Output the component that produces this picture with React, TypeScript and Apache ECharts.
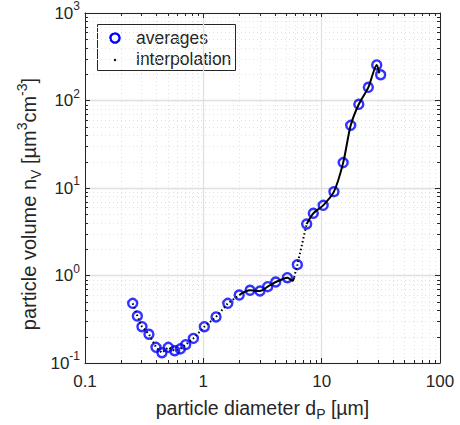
import React, { useEffect, useRef } from "react";
import * as echarts from "echarts";

// ---- data ----
const avgX = [0.253, 0.277, 0.303, 0.347, 0.398, 0.447, 0.506, 0.573, 0.639, 0.709, 0.824, 1.02, 1.28, 1.61, 2.01, 2.48, 3.01, 3.5, 4.09, 5.13, 6.23, 7.47, 8.5, 10.3, 12.7, 15.2, 17.6, 20.6, 24.8, 29.2, 31.5];
const avgY = [0.481, 0.344, 0.26, 0.213, 0.151, 0.131, 0.151, 0.138, 0.145, 0.162, 0.191, 0.26, 0.336, 0.481, 0.598, 0.678, 0.665, 0.745, 0.843, 0.944, 1.33, 3.88, 5.14, 6.34, 9.08, 19.5, 52.0, 90.5, 141.5, 255, 197];

// interpolation curve, split in dotted (sparse) and solid (dense) stretches
const interpDotA_X = [0.253, 0.277, 0.303, 0.347, 0.398, 0.447, 0.506, 0.573, 0.639, 0.709, 0.824, 1.02, 1.28, 1.61, 2.01];
const interpDotA_Y = [0.481, 0.344, 0.26, 0.213, 0.151, 0.131, 0.151, 0.138, 0.145, 0.162, 0.191, 0.26, 0.336, 0.481, 0.598];
const interpSolidA_X = [2.01, 2.48, 3.01, 3.5, 4.09, 4.6, 5.13, 5.45, 5.69, 5.85];
const interpSolidA_Y = [0.598, 0.678, 0.665, 0.745, 0.843, 0.9, 0.944, 0.9, 0.873, 0.95];
const interpDotB_X = [5.85, 6.23, 7.47];
const interpDotB_Y = [0.95, 1.33, 3.88];
const interpSolidB_X = [7.47, 8.5, 10.3, 12.7, 15.2, 17.6, 20.6, 24.8, 29.2, 30.7];
const interpSolidB_Y = [3.88, 5.14, 6.34, 9.08, 19.5, 52.0, 90.5, 141.5, 255, 205];

const xTickLabels = ["0.1", "1", "10", "100"];
const yExponents = [-1, 0, 1, 2, 3];
const X_MIN = 0.1, X_MAX = 100, Y_MIN = 0.1, Y_MAX = 1000;
const xDecades = [0.1, 1, 10];
const yDecades = [0.1, 1, 10, 100];
const minorMult = [2, 3, 4, 5, 6, 7, 8, 9];

const X_TITLE = "particle diameter d{s|P} [µm]";
const Y_TITLE = "particle volume n{s|V} [µm{p|3}cm{p|-3}]";

const FONT = "'Liberation Sans', Arial, sans-serif";
const AXIS_COLOR = "#262626";

const zip = (xs: number[], ys: number[]) => xs.map((x, i) => [x, ys[i]]);

export default function App() {
  const ref = useRef<HTMLDivElement>(null);
  useEffect(() => {
    if (!ref.current) return;
    const chart = echarts.init(ref.current, undefined, { renderer: "svg" });
    const minorX: number[] = [];
    xDecades.forEach((d) => minorMult.forEach((m) => minorX.push(d * m)));
    const minorY: number[] = [];
    yDecades.forEach((d) => minorMult.forEach((m) => minorY.push(d * m)));

    const fmtX = (v: number) => {
      const s = Number(v.toPrecision(3)).toString();
      return xTickLabels.includes(s) ? s : "";
    };
    const fmtY = (v: number) => {
      const e = Math.round(Math.log10(v));
      if (!yExponents.includes(e)) return "";
      return `{b|10}{e|${e}}`;
    };

    const baseAxis = {
      type: "log" as const,
      logBase: 10,
      axisLine: { show: true, lineStyle: { color: AXIS_COLOR, width: 1 } },
      axisTick: { show: true, inside: true, length: 5, lineStyle: { color: AXIS_COLOR, width: 1 } },
    };

    const option: any = {
      animation: false,
      backgroundColor: "#ffffff",
      grid: { left: 85, right: 20, top: 13, bottom: 62, containLabel: false, outerBoundsMode: "none" },
      xAxis: [
        {
          ...baseAxis,
          min: X_MIN,
          max: X_MAX,
          position: "bottom",
          axisLabel: { formatter: fmtX, fontFamily: FONT, fontSize: 17, color: AXIS_COLOR, margin: 10 },
          splitLine: { show: true, lineStyle: { color: "#e0e0e0", width: 1.3 } },
          name: X_TITLE,
          nameLocation: "middle",
          nameGap: 32,
          nameTextStyle: {
            fontFamily: FONT,
            fontSize: 19.5,
            color: AXIS_COLOR,
            lineHeight: 26,
            rich: { s: { fontFamily: FONT, fontSize: 14, color: AXIS_COLOR, verticalAlign: "bottom", lineHeight: 26 } },
          },
        },
        { ...baseAxis, min: X_MIN, max: X_MAX, position: "top", axisLabel: { show: false }, splitLine: { show: false } },
      ],
      yAxis: [
        {
          ...baseAxis,
          min: Y_MIN,
          max: Y_MAX,
          position: "left",
          axisLabel: {
            formatter: fmtY,
            margin: 5,
            color: AXIS_COLOR,
            rich: {
              b: { fontFamily: FONT, fontSize: 17, color: AXIS_COLOR, lineHeight: 26, verticalAlign: "middle" },
              e: { fontFamily: FONT, fontSize: 12, color: AXIS_COLOR, lineHeight: 26, verticalAlign: "top" },
            },
          },
          splitLine: { show: true, lineStyle: { color: "#e0e0e0", width: 1.3 } },
        },
        { ...baseAxis, min: Y_MIN, max: Y_MAX, position: "right", axisLabel: { show: false }, splitLine: { show: false } },
      ],
      series: [
        {
          type: "custom",
          name: "minor",
          silent: true,
          z: 1,
          xAxisIndex: 0,
          yAxisIndex: 0,
          data: [[X_MIN, Y_MIN]],
          renderItem: (_params: any, api: any) => {
            const bl = api.coord([X_MIN, Y_MIN]);
            const tr = api.coord([X_MAX, Y_MAX]);
            const left = bl[0], bottom = bl[1], right = tr[0], top = tr[1];
            const children: any[] = [];
            const r = (v: number) => Math.round(v) + 0.5;
            const gridStyle = { stroke: "#e2e2e2", lineWidth: 1, lineDash: [1, 3] };
            minorX.forEach((v) => {
              const px = r(api.coord([v, Y_MIN])[0]);
              children.push({ type: "line", shape: { x1: px, y1: top, x2: px, y2: bottom }, style: gridStyle });
              children.push({ type: "line", shape: { x1: px, y1: bottom, x2: px, y2: bottom - 3 }, style: { stroke: AXIS_COLOR, lineWidth: 1 } });
              children.push({ type: "line", shape: { x1: px, y1: top, x2: px, y2: top + 3 }, style: { stroke: AXIS_COLOR, lineWidth: 1 } });
            });
            minorY.forEach((v) => {
              const py = r(api.coord([X_MIN, v])[1]);
              children.push({ type: "line", shape: { x1: left, y1: py, x2: right, y2: py }, style: gridStyle });
              children.push({ type: "line", shape: { x1: left, y1: py, x2: left + 3, y2: py }, style: { stroke: AXIS_COLOR, lineWidth: 1 } });
              children.push({ type: "line", shape: { x1: right, y1: py, x2: right - 3, y2: py }, style: { stroke: AXIS_COLOR, lineWidth: 1 } });
            });
            return { type: "group", children };
          },
        },
        {
          type: "scatter",
          name: "averages",
          z: 3,
          symbol: "circle",
          symbolSize: 9,
          itemStyle: { color: "rgba(0,0,0,0)", borderColor: "#0000ff", borderWidth: 2.4 },
          data: zip(avgX, avgY),
        },
        { type: "line", name: "interpolation", z: 4, showSymbol: false, lineStyle: { color: "#000000", width: 2, type: [1.5, 2.5] }, data: zip(interpDotA_X, interpDotA_Y) },
        { type: "line", name: "interpolation", z: 4, showSymbol: false, smooth: 0.3, lineStyle: { color: "#000000", width: 2 }, data: zip(interpSolidA_X, interpSolidA_Y) },
        { type: "line", name: "interpolation", z: 4, showSymbol: false, lineStyle: { color: "#000000", width: 2, type: [1.5, 2.5] }, data: zip(interpDotB_X, interpDotB_Y) },
        { type: "line", name: "interpolation", z: 4, showSymbol: false, smooth: 0.25, lineStyle: { color: "#000000", width: 2 }, data: zip(interpSolidB_X, interpSolidB_Y) },
      ],
      graphic: [
        {
          type: "text",
          x: 29,
          y: 204,
          rotation: Math.PI / 2,
          z: 10,
          style: {
            text: Y_TITLE,
            fontFamily: FONT,
            fontSize: 20,
            fill: AXIS_COLOR,
            align: "center",
            verticalAlign: "middle",
            lineHeight: 28,
            rich: {
              s: { fontFamily: FONT, fontSize: 14, fill: AXIS_COLOR, verticalAlign: "bottom", lineHeight: 28 },
              p: { fontFamily: FONT, fontSize: 14, fill: AXIS_COLOR, verticalAlign: "top", lineHeight: 28 },
            },
          },
        },
        {
          type: "group",
          left: 97,
          top: 24,
          z: 10,
          children: [
            { type: "rect", shape: { x: 0.5, y: 0.5, width: 138, height: 46 }, style: { fill: "#ffffff", stroke: AXIS_COLOR, lineWidth: 1 } },
            { type: "circle", shape: { cx: 18, cy: 14, r: 4.6 }, style: { fill: "none", stroke: "#0000ff", lineWidth: 2.4 } },
            { type: "circle", shape: { cx: 18, cy: 36, r: 1.2 }, style: { fill: "#000000" } },
            { type: "text", x: 39, y: 14, style: { text: "averages", fontFamily: FONT, fontSize: 17.5, fill: AXIS_COLOR, verticalAlign: "middle" } },
            { type: "text", x: 39, y: 35, style: { text: "interpolation", fontFamily: FONT, fontSize: 17.5, fill: AXIS_COLOR, verticalAlign: "middle" } },
          ],
        },
      ],
    };
    chart.setOption(option);
    return () => chart.dispose();
  }, []);
  return (
    <div
      ref={ref}
      style={{ position: "fixed", left: 0, top: 0, width: 460, height: 425, background: "#ffffff" }}
    />
  );
}
